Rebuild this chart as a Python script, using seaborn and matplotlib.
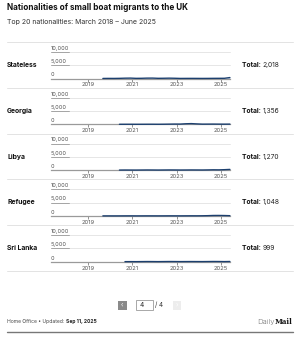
import numpy as np
import pandas as pd
import matplotlib
matplotlib.use("Agg")
import matplotlib.pyplot as plt
import seaborn as sns
from matplotlib.patches import Rectangle
from matplotlib.lines import Line2D

# ---------------- data ----------------
title = "Nationalities of small boat migrants to the UK"
subtitle = "Top 20 nationalities: March 2018 \u2013 June 2025"
nationalities = ["Stateless", "Georgia", "Libya", "Refugee", "Sri Lanka"]
totals = ["2,018", "1,356", "1,270", "1,048", "999"]
# first quarter (year, month) with arrivals for each nationality
start_quarters = [(2019, 9), (2020, 6), (2020, 6), (2019, 9), (2020, 9)]
stateless = [20, 40, 30, 60, 120, 150, 60, 80, 140, 150, 70, 90, 130, 90, 30, 40, 48, 40, 30, 40, 60, 70, 80, 350]
georgia = [5, 10, 15, 5, 10, 20, 25, 10, 30, 60, 90, 80, 200, 260, 150, 60, 70, 80, 60, 50, 66]
libya = [10, 30, 20, 10, 30, 50, 40, 20, 40, 60, 50, 30, 40, 60, 50, 40, 70, 110, 90, 160, 260]
refugee = [5, 10, 5, 10, 20, 25, 10, 15, 25, 20, 15, 20, 30, 25, 20, 30, 40, 35, 50, 90, 160, 170, 140, 78]
sri_lanka = [20, 30, 20, 40, 60, 50, 30, 50, 70, 60, 40, 50, 60, 50, 40, 60, 80, 70, 40, 79]
series = [stateless, georgia, libya, refugee, sri_lanka]
x_ticks = [2019, 2021, 2023, 2025]
y_ticks = [0, 5000, 10000]
y_tick_labels = ["0", "5,000", "10,000"]
source = "Home Office \u2022 Updated: "
updated = "Sep 11, 2025"
page_current = "4"
page_total = "/ 4"

# ---------------- layout ----------------
W, H = 300, 337
sns.set_theme(style="white")
plt.rcParams["font.family"] = ["Inter", "DejaVu Sans"]
fig = plt.figure(figsize=(W / 100, H / 100), dpi=100)
fig.patch.set_facecolor("white")

def fx(px):
    return px / W

def fy(py):
    return 1 - py / H

GREY_TXT = "#555555"
LINE_BLUE = "#1c3f6e"
FILL_BLUE = "#c5d5ea"

fig.text(fx(7), fy(8), title, fontsize=5.9, fontweight="bold", color="#111111", va="center", ha="left")
fig.text(fx(7), fy(22), subtitle, fontsize=5.0, color="#333333", va="center", ha="left")

step = 45.8
for i in range(6):
    yy = 42 + step * i
    fig.add_artist(Line2D([fx(7), fx(293)], [fy(yy), fy(yy)], color="#e3e3e3", lw=0.7))

x_left, x_right = 2017.32, 2025.42

for i, (name, total, start, vals) in enumerate(zip(nationalities, totals, start_quarters, series)):
    y_zero = 78.5 + step * i
    y_top = 52 + step * i
    ax = fig.add_axes([fx(51), fy(y_zero), fx(230) - fx(51), fy(y_top) - fy(y_zero)])
    ax.set_facecolor("none")
    sy, sm = start
    xs = []
    for k in range(len(vals)):
        m = sm + 3 * k
        xs.append(sy + (m - 1) // 12 + ((m - 1) % 12) / 12)
    df = pd.DataFrame({"x": xs, "y": vals})
    ax.fill_between(df["x"], 0, df["y"], color=FILL_BLUE, lw=0, clip_on=False, zorder=2)
    sns.lineplot(data=df, x="x", y="y", ax=ax, color=LINE_BLUE, lw=1.0, clip_on=False, zorder=3)
    ax.set_xlim(x_left, x_right)
    ax.set_ylim(0, 10000)
    for s in ["top", "right", "left"]:
        ax.spines[s].set_visible(False)
    ax.spines["bottom"].set_color("#9a9a9a")
    ax.spines["bottom"].set_linewidth(0.9)
    for yt, yl in zip(y_ticks, y_tick_labels):
        if yt > 0:
            ax.axhline(yt, color="#e6e6e6", lw=0.7, zorder=0, clip_on=False)
            ax.axhline(yt, xmin=0, xmax=0.1, color="#9a9a9a", lw=0.6, zorder=1, clip_on=False)
        ax.text(0.0, yt + 450, yl, transform=ax.get_yaxis_transform(), fontsize=4.1,
                color=GREY_TXT, ha="left", va="bottom")
    ax.set_yticks([])
    ax.set_xticks(x_ticks)
    ax.set_xticklabels([str(t) for t in x_ticks])
    ax.tick_params(axis="x", length=2.2, width=0.5, color="#666666", labelsize=4.2,
                   labelcolor=GREY_TXT, pad=0.6, bottom=True)
    ax.set_xlabel("")
    ax.set_ylabel("")
    ym = 65 + step * i
    fig.text(fx(7), fy(ym), name, fontsize=4.9, fontweight="bold", color="#111111", va="center", ha="left")
    t1 = fig.text(fx(242), fy(ym), "Total: ", fontsize=4.8, fontweight="bold", color="#111111", va="center", ha="left")
    fig.canvas.draw()
    bb = t1.get_window_extent()
    fig.text(bb.x1 / fig.bbox.width, fy(ym), total, fontsize=4.8,
             color="#222222", va="center", ha="left")

# pagination
fig.add_artist(Rectangle((fx(118), fy(309.5)), fx(8.5), fy(300.5) - fy(309.5), color="#8a8a8a", lw=0))
fig.text(fx(122.2), fy(305), "\u2039", fontsize=4.5, color="white", ha="center", va="center")
fig.add_artist(Rectangle((fx(136), fy(310)), fx(17), fy(300) - fy(310), facecolor="white",
                         edgecolor="#9a9a9a", lw=0.6))
fig.text(fx(140), fy(305), page_current, fontsize=4.8, color="#222222", ha="left", va="center")
fig.text(fx(155), fy(305), page_total, fontsize=4.6, color="#333333", ha="left", va="center")
fig.add_artist(Rectangle((fx(172.5), fy(309.5)), fx(8.5), fy(300.5) - fy(309.5), color="#ededed", lw=0))
fig.text(fx(176.7), fy(305), "\u203a", fontsize=4.5, color="white", ha="center", va="center")

# footer
s1 = fig.text(fx(7), fy(322), source, fontsize=3.6, color="#444444", ha="left", va="center")
fig.canvas.draw()
bb = s1.get_window_extent()
fig.text(bb.x1 / fig.bbox.width, fy(322), updated, fontsize=3.6, fontweight="bold",
         color="#222222", ha="left", va="center")
m1 = fig.text(fx(293), fy(322), "Mail", fontsize=5.0, color="#111111", fontweight="bold",
              family="DejaVu Serif", ha="right", va="center")
fig.canvas.draw()
mb = m1.get_window_extent()
fig.text(mb.x0 / fig.bbox.width, fy(322), "Daily", fontsize=5.6, color="#444444", fontweight="light",
         ha="right", va="center")
fig.add_artist(Line2D([fx(7), fx(293)], [fy(331.5), fy(331.5)], color="#777777", lw=1.0))

fig.savefig("out.png", dpi=100, facecolor="white")
